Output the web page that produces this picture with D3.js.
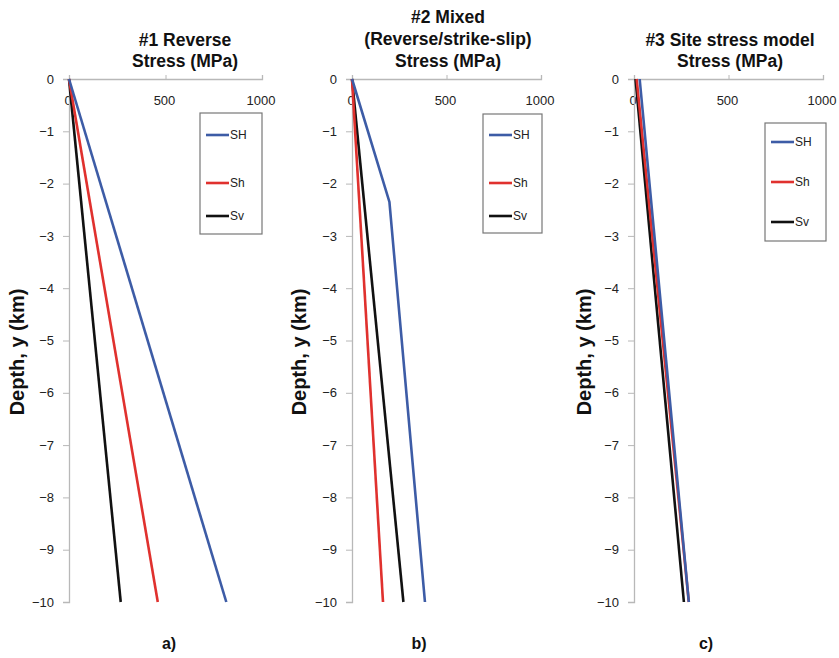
<!DOCTYPE html>
<html><head><meta charset="utf-8">
<script src="https://cdn.jsdelivr.net/npm/d3@7"></script>
<style>body{margin:0;background:#fff;} text{font-family:Arial,"Liberation Sans",sans-serif;}</style>
</head><body>
<svg id="c" width="839" height="658"></svg>
<script>
const seriesNames = ["SH", "Sh", "Sv"];
const seriesColors = ["#3d5ca6", "#e0312e", "#111111"];
const xTicks = [0, 500, 1000];
const yTicks = [0, -1, -2, -3, -4, -5, -6, -7, -8, -9, -10];
const panelTitles = [["#1 Reverse", "Stress (MPa)"], ["#2 Mixed", "(Reverse/strike-slip)", "Stress (MPa)"], ["#3 Site stress model", "Stress (MPa)"]];
const panelLetters = ["a)", "b)", "c)"];

// Panel a: #1 Reverse  (depth km, stress MPa)
const aDepth = [0, -10];
const aSH = [0, 815];
const aSh = [0, 460];
const aSv = [0, 268];
// Panel b: #2 Mixed
const bDepthSH = [0, -2.35, -10];
const bSH = [0, 198, 386];
const bDepth = [0, -10];
const bSh = [0, 164];
const bSv = [0, 272];
// Panel c: #3 Site stress model
const cDepth = [0, -10];
const cSH = [30, 290];
const cSh = [14, 290];
const cSv = [8, 264];

const panels = [
  {x0: 69, x1: 262, series: [[aDepth, aSH], [aDepth, aSh], [aDepth, aSv]],
   legend: {x: 200, y: 113, w: 62, h: 121, rows: [135, 183, 216]}, ylab: 17, letter: 169, titleX: 185, titleY: [46, 67]},
  {x0: 352, x1: 541, series: [[bDepthSH, bSH], [bDepth, bSh], [bDepth, bSv]],
   legend: {x: 483, y: 114, w: 59, h: 119, rows: [135, 183, 216]}, ylab: 299, letter: 419, titleX: 448, titleY: [23, 45, 67]},
  {x0: 634, x1: 823, series: [[cDepth, cSH], [cDepth, cSh], [cDepth, cSv]],
   legend: {x: 765, y: 123, w: 61, h: 118, rows: [142, 182, 222]}, ylab: 584, letter: 706, titleX: 730, titleY: [46, 67]}
];

const svg = d3.select("#c");
const yTop = 79, yBot = 602;

panels.forEach((p, i) => {
  const x = d3.scaleLinear().domain([0, 1000]).range([p.x0, p.x1]);
  const y = d3.scaleLinear().domain([0, -10]).range([yTop, yBot]);
  const g = svg.append("g");

  // title
  panelTitles[i].forEach((t, k) => {
    g.append("text").attr("x", p.titleX).attr("y", p.titleY[k]).attr("text-anchor", "middle")
      .attr("font-size", 17.5).attr("font-weight", "bold").attr("fill", "#111").text(t);
  });

  // x axis (top)
  const xa = g.append("g").attr("transform", `translate(0,${yTop})`)
    .call(d3.axisTop(x).tickValues(xTicks).tickSize(4).tickFormat(""));
  xa.select(".domain").attr("stroke", "#b8b8b8").attr("stroke-width", 1.3);
  xa.selectAll(".tick line").attr("stroke", "#b8b8b8");
  xTicks.forEach(v => {
    g.append("text").attr("x", x(v) - 1).attr("y", 105).attr("text-anchor", "middle")
      .attr("font-size", 13).attr("fill", "#222").text(v);
  });

  // y axis
  const ya = g.append("g").attr("transform", `translate(${p.x0},0)`)
    .call(d3.axisLeft(y).tickValues(yTicks).tickSize(6).tickFormat(d3.format("d")));
  ya.select(".domain").attr("stroke", "#b8b8b8").attr("stroke-width", 1.3);
  ya.selectAll(".tick line").attr("stroke", "#b8b8b8");
  ya.selectAll(".tick text").attr("font-size", 13).attr("fill", "#222").attr("x", -15)
    .attr("font-family", "Arial, 'Liberation Sans', sans-serif");

  // y label
  g.append("text").attr("transform", `translate(${p.ylab},352) rotate(-90)`)
    .attr("dy", "0.35em").attr("text-anchor", "middle").attr("font-size", 20).attr("font-weight", "bold")
    .attr("fill", "#111").text("Depth, y (km)");

  // lines
  const line = d3.line().x(d => x(d[1])).y(d => y(d[0]));
  const order = [2, 1, 0];
  order.forEach(s => {
    const [dep, val] = p.series[s];
    const pts = dep.map((d, j) => [d, val[j]]);
    g.append("path").datum(pts).attr("d", line).attr("fill", "none")
      .attr("stroke", seriesColors[s]).attr("stroke-width", 2.6);
  });

  // legend
  const L = p.legend;
  g.append("rect").attr("x", L.x).attr("y", L.y).attr("width", L.w).attr("height", L.h)
    .attr("fill", "#fff").attr("stroke", "#777").attr("stroke-width", 1.2);
  seriesNames.forEach((n, s) => {
    g.append("line").attr("x1", L.x + 6).attr("x2", L.x + 29).attr("y1", L.rows[s]).attr("y2", L.rows[s])
      .attr("stroke", seriesColors[s]).attr("stroke-width", 2.6);
    g.append("text").attr("x", L.x + 30).attr("y", L.rows[s]).attr("dy", "0.35em")
      .attr("font-size", 12).attr("fill", "#222").text(n);
  });

  // panel letter
  g.append("text").attr("x", p.letter).attr("y", 649).attr("text-anchor", "middle")
    .attr("font-size", 16).attr("font-weight", "bold").attr("fill", "#111").text(panelLetters[i]);
});
</script>
</body></html>
